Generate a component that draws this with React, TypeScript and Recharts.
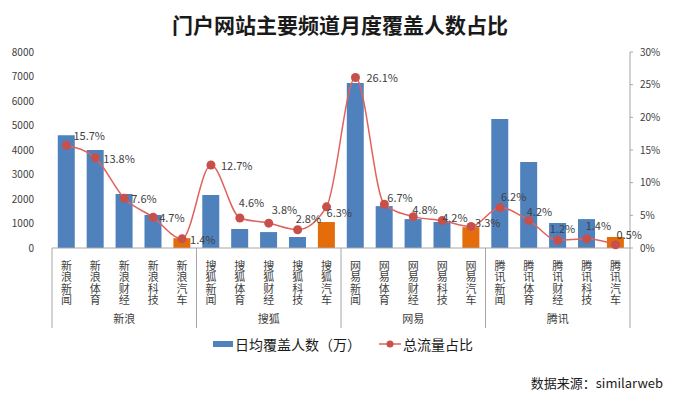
import React from 'react';
import { ComposedChart, Bar, Line, XAxis, YAxis, Cell, LabelList, Legend } from 'recharts';

const categories = [
  '新浪新闻', '新浪体育', '新浪财经', '新浪科技', '新浪汽车',
  '搜狐新闻', '搜狐体育', '搜狐财经', '搜狐科技', '搜狐汽车',
  '网易新闻', '网易体育', '网易财经', '网易科技', '网易汽车',
  '腾讯新闻', '腾讯体育', '腾讯财经', '腾讯科技', '腾讯汽车',
];
const groups = ['新浪', '搜狐', '网易', '腾讯'];
const coverage = [4600, 4000, 2200, 1350, 400, 2160, 775, 650, 450, 1060, 6730, 1710, 1180, 1060, 850, 5270, 3510, 1020, 1180, 450];
const share = [15.7, 13.8, 7.6, 4.7, 1.4, 12.7, 4.6, 3.8, 2.8, 6.3, 26.1, 6.7, 4.8, 4.2, 3.3, 6.2, 4.2, 1.2, 1.4, 0.5];
const leftTicks = [0, 1000, 2000, 3000, 4000, 5000, 6000, 7000, 8000];
const rightTicks = [0, 5, 10, 15, 20, 25, 30];

// label offsets (style): [dx from point to text start, dy of text center]
const labelOffsets: [number, number][] = [
  [7, -10], [8, 0], [7, 0], [6, 0], [8, 0],
  [10, 0], [-1, -16], [3, -14], [-2, -12], [0, 5],
  [11, 0], [3, -7], [-1, -8], [0, -4], [4, -4],
  [1, -11], [-2, -10], [-8, -12], [-1, -14], [1, -11],
];

const data = categories.map((name, i) => ({
  name,
  group: groups[Math.floor(i / 5)],
  coverage: coverage[i],
  share: share[i],
}));

const BLUE = '#4F81BD';
const ORANGE = '#E46C0A';
const LINE = '#E0625E';
const DOT = '#C8504B';
const TXT = '#404040';
const FONT = '"Noto Sans CJK SC", "Noto Sans", sans-serif';

const PLOT_LEFT = 52;
const PLOT_RIGHT = 630;
const BW = (PLOT_RIGHT - PLOT_LEFT) / categories.length;

const CatTick = (props: any) => {
  const { x, y, payload, index } = props;
  const i = index as number;
  const els: any[] = [];
  els.push(
    <text
      key="t"
      x={x}
      y={y + 4}
      textAnchor="start"
      fontSize={11}
      fill={TXT}
      fontFamily={FONT}
      letterSpacing={0.5}
      style={{ writingMode: 'vertical-rl' as any }}
    >
      {payload.value}
    </text>
  );
  if (i % 5 === 0) {
    els.push(<line key="s" x1={x - BW / 2} x2={x - BW / 2} y1={y - 8} y2={y + 72} stroke="#A6A6A6" strokeWidth={1} />);
  }
  if (i === categories.length - 1) {
    els.push(<line key="e" x1={x + BW / 2} x2={x + BW / 2} y1={y - 8} y2={y + 72} stroke="#A6A6A6" strokeWidth={1} />);
  }
  if (i % 5 === 2) {
    els.push(
      <text key="g" x={x} y={y + 67} textAnchor="middle" fontSize={11} fill={TXT} fontFamily={FONT}>
        {groups[Math.floor(i / 5)]}
      </text>
    );
  }
  return <g>{els}</g>;
};

const ShareLabel = (props: any) => {
  const { x, y, index, value } = props;
  const [dx, dy] = labelOffsets[index] || [6, 0];
  return (
    <text x={x + dx} y={y + dy} dominantBaseline="central" fontSize={11} fill={TXT} fontFamily={FONT}>
      {`${Number(value).toFixed(1)}%`}
    </text>
  );
};

const LegendContent = () => (
  <div style={{ display: 'flex', alignItems: 'center', fontFamily: FONT, fontSize: 14, color: '#1a1a1a' }}>
    <span style={{ display: 'inline-block', width: 20, height: 6, background: BLUE, marginRight: 2 }} />
    <span style={{ marginRight: 18 }}>日均覆盖人数（万）</span>
    <svg width={22} height={10} style={{ marginRight: 2 }}>
      <line x1={0} x2={22} y1={5} y2={5} stroke={LINE} strokeWidth={1.5} />
      <circle cx={11} cy={5} r={3.5} fill={DOT} />
    </svg>
    <span>总流量占比</span>
  </div>
);

export default function App() {
  return (
    <div style={{ position: 'absolute', left: 0, top: 0, width: 680, height: 398, background: '#fff' }}>
      <ComposedChart
        width={680}
        height={398}
        data={data}
        margin={{ top: 52, right: 0, left: 0, bottom: 70 }}
        barCategoryGap="20%"
      >
        <text x={340} y={24} textAnchor="middle" dominantBaseline="central" fontSize={21} fontWeight="bold" fill="#1a1a1a" fontFamily={FONT}>
          门户网站主要频道月度覆盖人数占比
        </text>
        <XAxis
          dataKey="name"
          xAxisId={0}
          interval={0}
          tickLine={false}
          axisLine={{ stroke: '#A6A6A6' }}
          tick={<CatTick />}
          height={80}
        />
        <YAxis
          yAxisId="left"
          width={52}
          domain={[0, 8000]}
          ticks={leftTicks}
          axisLine={false}
          tickLine={false}
          tick={{ fontSize: 10, fill: TXT, fontFamily: FONT }}
          tickMargin={12}
        />
        <YAxis
          yAxisId="right"
          orientation="right"
          width={50}
          domain={[0, 30]}
          ticks={rightTicks}
          tickFormatter={(v: number) => `${v}%`}
          axisLine={{ stroke: '#A6A6A6' }}
          tickLine={{ stroke: '#A6A6A6' }}
          tickSize={3}
          tickMargin={7}
          tick={{ fontSize: 10, fill: TXT, fontFamily: FONT }}
        />
        <Bar yAxisId="left" dataKey="coverage" name="日均覆盖人数（万）" isAnimationActive={false}>
          {data.map((d, i) => (
            <Cell key={i} fill={i % 5 === 4 ? ORANGE : BLUE} />
          ))}
        </Bar>
        <Line
          yAxisId="right"
          type="monotone"
          dataKey="share"
          name="总流量占比"
          stroke={LINE}
          strokeWidth={1.5}
          dot={{ r: 4.5, fill: DOT, stroke: DOT, strokeWidth: 0 }}
          activeDot={false}
          isAnimationActive={false}
        >
          <LabelList dataKey="share" content={<ShareLabel />} />
        </Line>
        <Legend
          layout="horizontal"
          verticalAlign="middle"
          align="center"
          content={<LegendContent />}
          wrapperStyle={{ top: 334, left: 213, width: 300, height: 22 }}
        />
        <text x={663} y={382} textAnchor="end" dominantBaseline="central" fontSize={13} fill="#1a1a1a" fontFamily={FONT}>
          数据来源：similarweb
        </text>
      </ComposedChart>
    </div>
  );
}
